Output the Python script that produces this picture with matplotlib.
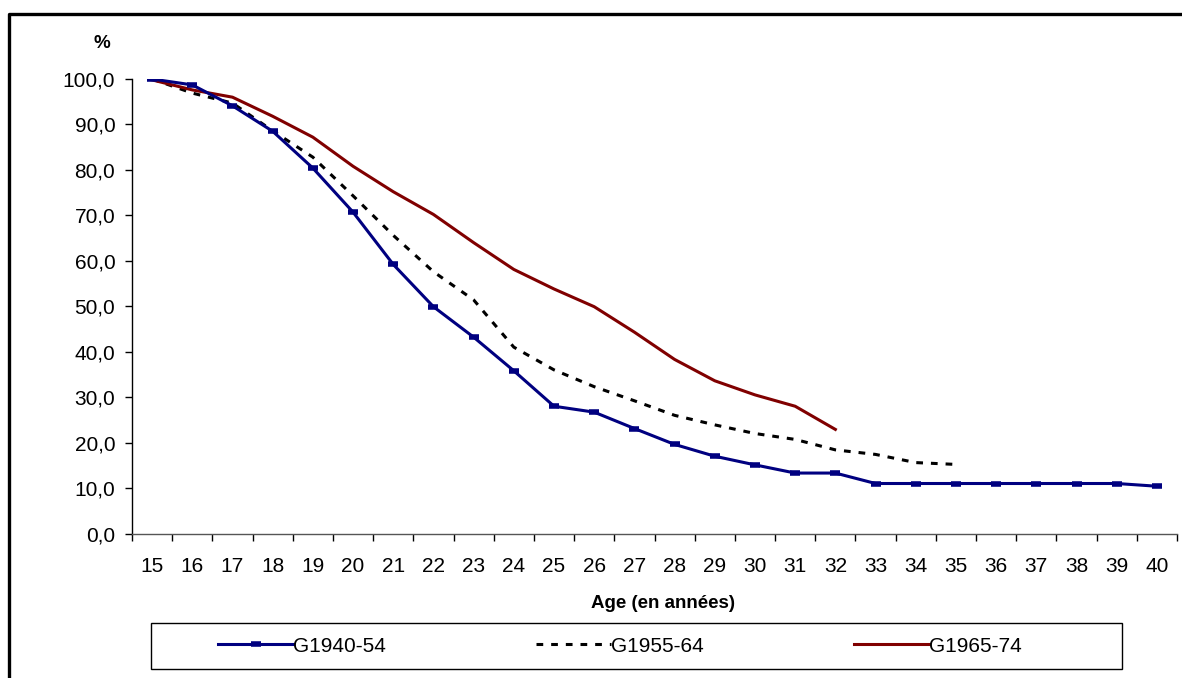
import matplotlib
matplotlib.use("Agg")
import matplotlib.pyplot as plt
from matplotlib.lines import Line2D
from matplotlib.patches import Rectangle

plt.rcParams["font.family"] = ["Liberation Sans", "DejaVu Sans"]

ages = list(range(15, 41))
g1940 = [100.0, 98.7, 94.1, 88.5, 80.4, 70.7, 59.2, 49.9, 43.2, 35.8, 28.0, 26.7,
         23.1, 19.6, 17.0, 15.1, 13.3, 13.3, 11.0, 11.0, 11.0, 11.0, 11.0, 11.0, 11.0, 10.4]
g1955 = [100.0, 96.9, 94.7, 88.6, 82.8, 74.3, 65.6, 57.6, 51.4, 41.0, 36.0, 32.3,
         29.2, 26.0, 23.9, 22.0, 20.7, 18.4, 17.4, 15.6, 15.2]
g1965 = [99.8, 97.6, 96.0, 91.8, 87.2, 80.8, 75.2, 70.2, 64.0, 58.1, 53.8, 49.9,
         44.3, 38.3, 33.6, 30.5, 28.0, 22.9]
series_names = ["G1940-54", "G1955-64", "G1965-74"]

W, H = 1182, 678
fig = plt.figure(figsize=(W / 100, H / 100), dpi=100)
ax = fig.add_axes([132 / W, 1 - 533.5 / H, (1177 - 132) / W, (533.5 - 79) / H])

ax.plot(ages, g1940, color="#000080", lw=2.2, marker="_", ms=7.5, mew=4,
        label=series_names[0], zorder=3)
ax.plot(ages[:len(g1955)], g1955, color="black", lw=2.2, dashes=(2.2, 2.6),
        label=series_names[1], zorder=2)
ax.plot(ages[:len(g1965)], g1965, color="#800000", lw=2.2,
        label=series_names[2], zorder=2)

ax.set_xlim(14.5, 40.5)
ax.set_ylim(0, 100)
ax.set_yticks(range(0, 101, 10))
ax.set_yticklabels([f"{v},0" for v in range(0, 101, 10)])
ax.set_xticks(ages)
ax.set_xticks([a - 0.5 for a in ages] + [40.5], minor=True)
ax.tick_params(axis="x", which="major", length=0, pad=17, labelsize=15)
ax.tick_params(axis="x", which="minor", length=5, width=1, direction="out")
ax.tick_params(axis="y", length=5, width=1, direction="out", pad=7, labelsize=15)
for s in ["top", "right"]:
    ax.spines[s].set_visible(False)
ax.spines["left"].set_linewidth(1)
ax.spines["bottom"].set_linewidth(1)
ax.spines["bottom"].set_color("#555555")

fig.text(663 / W, 1 - 604 / H, "Age (en années)", ha="center", va="center",
         fontsize=13.5, fontweight="bold")
fig.text(102 / W, 1 - 44 / H, "%", ha="center", va="center",
         fontsize=13.5, fontweight="bold")

# legend box
fig.add_artist(Rectangle((151 / W, 1 - 669 / H), (1122 - 151) / W, 46 / H,
                         transform=fig.transFigure, fill=False, ec="black", lw=1))
handles, labels = ax.get_legend_handles_labels()
fig.legend(handles, labels, loc="center", bbox_to_anchor=(620 / W, 1 - 646 / H),
           ncol=3, frameon=False, fontsize=15, handlelength=3.6,
           handletextpad=0.0, columnspacing=7.2, numpoints=1)

# outer frame
fig.add_artist(Line2D([9.5 / W, 9.5 / W, 1], [0, 1 - 13.5 / H, 1 - 13.5 / H],
                      transform=fig.transFigure, color="black", lw=2.4))

fig.savefig("out.png", dpi=100)
